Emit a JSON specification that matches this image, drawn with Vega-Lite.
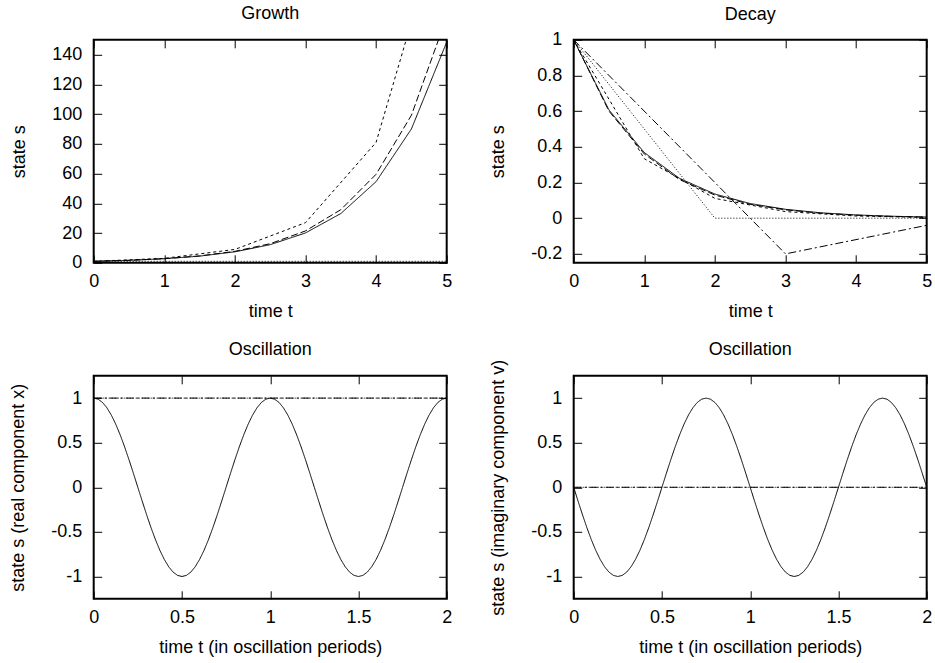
{
  "$schema": "https://vega.github.io/schema/vega-lite/v6.json",
  "background": "white",
  "padding": {"left": 7.7, "top": 3.8, "right": 5, "bottom": 5},
  "columns": 2,
  "spacing": {"row": 113, "column": 127},
  "bounds": "flush",
  "datasets": {
    "growth": [
      {"t": 0, "s": 1, "m": "exact"}, {"t": 0.5, "s": 1.6487, "m": "exact"}, {"t": 1, "s": 2.7183, "m": "exact"},
      {"t": 1.5, "s": 4.4817, "m": "exact"}, {"t": 2, "s": 7.3891, "m": "exact"}, {"t": 2.5, "s": 12.1825, "m": "exact"},
      {"t": 3, "s": 20.0855, "m": "exact"}, {"t": 3.5, "s": 33.1155, "m": "exact"}, {"t": 4, "s": 54.5982, "m": "exact"},
      {"t": 4.5, "s": 90.0171, "m": "exact"}, {"t": 5, "s": 148.4132, "m": "exact"},
      {"t": 0, "s": 1, "m": "h=0.5"}, {"t": 0.5, "s": 1.6667, "m": "h=0.5"}, {"t": 1, "s": 2.7778, "m": "h=0.5"},
      {"t": 1.5, "s": 4.6296, "m": "h=0.5"}, {"t": 2, "s": 7.716, "m": "h=0.5"}, {"t": 2.5, "s": 12.8601, "m": "h=0.5"},
      {"t": 3, "s": 21.4335, "m": "h=0.5"}, {"t": 3.5, "s": 35.7225, "m": "h=0.5"}, {"t": 4, "s": 59.5374, "m": "h=0.5"},
      {"t": 4.5, "s": 99.229, "m": "h=0.5"}, {"t": 5, "s": 165.3817, "m": "h=0.5"},
      {"t": 0, "s": 1, "m": "h=1"}, {"t": 1, "s": 3, "m": "h=1"}, {"t": 2, "s": 9, "m": "h=1"},
      {"t": 3, "s": 27, "m": "h=1"}, {"t": 4, "s": 81, "m": "h=1"}, {"t": 5, "s": 243, "m": "h=1"},
      {"t": 0, "s": 1, "m": "h=2"}, {"t": 2, "s": 1, "m": "h=2"}, {"t": 4, "s": 1, "m": "h=2"}, {"t": 6, "s": 1, "m": "h=2"}
    ],
    "decay": [
      {"t": 0, "s": 1, "m": "exact"}, {"t": 0.5, "s": 0.6065, "m": "exact"}, {"t": 1, "s": 0.3679, "m": "exact"},
      {"t": 1.5, "s": 0.2231, "m": "exact"}, {"t": 2, "s": 0.1353, "m": "exact"}, {"t": 2.5, "s": 0.0821, "m": "exact"},
      {"t": 3, "s": 0.0498, "m": "exact"}, {"t": 3.5, "s": 0.0302, "m": "exact"}, {"t": 4, "s": 0.0183, "m": "exact"},
      {"t": 4.5, "s": 0.0111, "m": "exact"}, {"t": 5, "s": 0.0067, "m": "exact"},
      {"t": 0, "s": 1, "m": "h=0.5"}, {"t": 0.5, "s": 0.6, "m": "h=0.5"}, {"t": 1, "s": 0.36, "m": "h=0.5"},
      {"t": 1.5, "s": 0.216, "m": "h=0.5"}, {"t": 2, "s": 0.1296, "m": "h=0.5"}, {"t": 2.5, "s": 0.0778, "m": "h=0.5"},
      {"t": 3, "s": 0.0467, "m": "h=0.5"}, {"t": 3.5, "s": 0.028, "m": "h=0.5"}, {"t": 4, "s": 0.0168, "m": "h=0.5"},
      {"t": 4.5, "s": 0.0101, "m": "h=0.5"}, {"t": 5, "s": 0.006, "m": "h=0.5"},
      {"t": 0, "s": 1, "m": "h=1"}, {"t": 1, "s": 0.3333, "m": "h=1"}, {"t": 2, "s": 0.1111, "m": "h=1"},
      {"t": 3, "s": 0.037, "m": "h=1"}, {"t": 4, "s": 0.0123, "m": "h=1"}, {"t": 5, "s": 0.0041, "m": "h=1"},
      {"t": 0, "s": 1, "m": "h=2"}, {"t": 2, "s": 0, "m": "h=2"}, {"t": 4, "s": 0, "m": "h=2"}, {"t": 6, "s": 0, "m": "h=2"},
      {"t": 0, "s": 1, "m": "h=3"}, {"t": 3, "s": -0.2, "m": "h=3"}, {"t": 6, "s": 0.04, "m": "h=3"}
    ],
    "osc": [
      {"t": 0, "re": 1, "im": 0, "m": "exact"}, {"t": 0.025, "re": 0.9877, "im": -0.1564, "m": "exact"},
      {"t": 0.05, "re": 0.9511, "im": -0.309, "m": "exact"}, {"t": 0.075, "re": 0.891, "im": -0.454, "m": "exact"},
      {"t": 0.1, "re": 0.809, "im": -0.5878, "m": "exact"}, {"t": 0.125, "re": 0.7071, "im": -0.7071, "m": "exact"},
      {"t": 0.15, "re": 0.5878, "im": -0.809, "m": "exact"}, {"t": 0.175, "re": 0.454, "im": -0.891, "m": "exact"},
      {"t": 0.2, "re": 0.309, "im": -0.9511, "m": "exact"}, {"t": 0.225, "re": 0.1564, "im": -0.9877, "m": "exact"},
      {"t": 0.25, "re": 0, "im": -1, "m": "exact"}, {"t": 0.275, "re": -0.1564, "im": -0.9877, "m": "exact"},
      {"t": 0.3, "re": -0.309, "im": -0.9511, "m": "exact"}, {"t": 0.325, "re": -0.454, "im": -0.891, "m": "exact"},
      {"t": 0.35, "re": -0.5878, "im": -0.809, "m": "exact"}, {"t": 0.375, "re": -0.7071, "im": -0.7071, "m": "exact"},
      {"t": 0.4, "re": -0.809, "im": -0.5878, "m": "exact"}, {"t": 0.425, "re": -0.891, "im": -0.454, "m": "exact"},
      {"t": 0.45, "re": -0.9511, "im": -0.309, "m": "exact"}, {"t": 0.475, "re": -0.9877, "im": -0.1564, "m": "exact"},
      {"t": 0.5, "re": -1, "im": 0, "m": "exact"}, {"t": 0.525, "re": -0.9877, "im": 0.1564, "m": "exact"},
      {"t": 0.55, "re": -0.9511, "im": 0.309, "m": "exact"}, {"t": 0.575, "re": -0.891, "im": 0.454, "m": "exact"},
      {"t": 0.6, "re": -0.809, "im": 0.5878, "m": "exact"}, {"t": 0.625, "re": -0.7071, "im": 0.7071, "m": "exact"},
      {"t": 0.65, "re": -0.5878, "im": 0.809, "m": "exact"}, {"t": 0.675, "re": -0.454, "im": 0.891, "m": "exact"},
      {"t": 0.7, "re": -0.309, "im": 0.9511, "m": "exact"}, {"t": 0.725, "re": -0.1564, "im": 0.9877, "m": "exact"},
      {"t": 0.75, "re": 0, "im": 1, "m": "exact"}, {"t": 0.775, "re": 0.1564, "im": 0.9877, "m": "exact"},
      {"t": 0.8, "re": 0.309, "im": 0.9511, "m": "exact"}, {"t": 0.825, "re": 0.454, "im": 0.891, "m": "exact"},
      {"t": 0.85, "re": 0.5878, "im": 0.809, "m": "exact"}, {"t": 0.875, "re": 0.7071, "im": 0.7071, "m": "exact"},
      {"t": 0.9, "re": 0.809, "im": 0.5878, "m": "exact"}, {"t": 0.925, "re": 0.891, "im": 0.454, "m": "exact"},
      {"t": 0.95, "re": 0.9511, "im": 0.309, "m": "exact"}, {"t": 0.975, "re": 0.9877, "im": 0.1564, "m": "exact"},
      {"t": 1, "re": 1, "im": 0, "m": "exact"}, {"t": 1.025, "re": 0.9877, "im": -0.1564, "m": "exact"},
      {"t": 1.05, "re": 0.9511, "im": -0.309, "m": "exact"}, {"t": 1.075, "re": 0.891, "im": -0.454, "m": "exact"},
      {"t": 1.1, "re": 0.809, "im": -0.5878, "m": "exact"}, {"t": 1.125, "re": 0.7071, "im": -0.7071, "m": "exact"},
      {"t": 1.15, "re": 0.5878, "im": -0.809, "m": "exact"}, {"t": 1.175, "re": 0.454, "im": -0.891, "m": "exact"},
      {"t": 1.2, "re": 0.309, "im": -0.9511, "m": "exact"}, {"t": 1.225, "re": 0.1564, "im": -0.9877, "m": "exact"},
      {"t": 1.25, "re": 0, "im": -1, "m": "exact"}, {"t": 1.275, "re": -0.1564, "im": -0.9877, "m": "exact"},
      {"t": 1.3, "re": -0.309, "im": -0.9511, "m": "exact"}, {"t": 1.325, "re": -0.454, "im": -0.891, "m": "exact"},
      {"t": 1.35, "re": -0.5878, "im": -0.809, "m": "exact"}, {"t": 1.375, "re": -0.7071, "im": -0.7071, "m": "exact"},
      {"t": 1.4, "re": -0.809, "im": -0.5878, "m": "exact"}, {"t": 1.425, "re": -0.891, "im": -0.454, "m": "exact"},
      {"t": 1.45, "re": -0.9511, "im": -0.309, "m": "exact"}, {"t": 1.475, "re": -0.9877, "im": -0.1564, "m": "exact"},
      {"t": 1.5, "re": -1, "im": 0, "m": "exact"}, {"t": 1.525, "re": -0.9877, "im": 0.1564, "m": "exact"},
      {"t": 1.55, "re": -0.9511, "im": 0.309, "m": "exact"}, {"t": 1.575, "re": -0.891, "im": 0.454, "m": "exact"},
      {"t": 1.6, "re": -0.809, "im": 0.5878, "m": "exact"}, {"t": 1.625, "re": -0.7071, "im": 0.7071, "m": "exact"},
      {"t": 1.65, "re": -0.5878, "im": 0.809, "m": "exact"}, {"t": 1.675, "re": -0.454, "im": 0.891, "m": "exact"},
      {"t": 1.7, "re": -0.309, "im": 0.9511, "m": "exact"}, {"t": 1.725, "re": -0.1564, "im": 0.9877, "m": "exact"},
      {"t": 1.75, "re": 0, "im": 1, "m": "exact"}, {"t": 1.775, "re": 0.1564, "im": 0.9877, "m": "exact"},
      {"t": 1.8, "re": 0.309, "im": 0.9511, "m": "exact"}, {"t": 1.825, "re": 0.454, "im": 0.891, "m": "exact"},
      {"t": 1.85, "re": 0.5878, "im": 0.809, "m": "exact"}, {"t": 1.875, "re": 0.7071, "im": 0.7071, "m": "exact"},
      {"t": 1.9, "re": 0.809, "im": 0.5878, "m": "exact"}, {"t": 1.925, "re": 0.891, "im": 0.454, "m": "exact"},
      {"t": 1.95, "re": 0.9511, "im": 0.309, "m": "exact"}, {"t": 1.975, "re": 0.9877, "im": 0.1564, "m": "exact"},
      {"t": 2, "re": 1, "im": 0, "m": "exact"},
      {"t": 0, "re": 1, "im": 0, "m": "h=3"}, {"t": 1, "re": 1, "im": 0, "m": "h=3"}, {"t": 2, "re": 1, "im": 0, "m": "h=3"},
      {"t": 0, "re": 1, "im": 0, "m": "h=2"}, {"t": 2, "re": 1, "im": 0, "m": "h=2"}
    ]
  },
  "concat": [
    {
      "title": {"text": "Growth"},
      "width": 353, "height": 223,
      "data": {"name": "growth"},
      "layer": [
        {
          "mark": {"type": "line", "clip": true, "color": "black", "strokeWidth": 1},
          "encoding": {
            "x": {"field": "t", "type": "quantitative", "scale": {"domain": [0, 5], "nice": false}, "axis": {"orient": "bottom", "title": "time t", "values": [0, 1, 2, 3, 4, 5]}},
            "y": {"field": "s", "type": "quantitative", "scale": {"domain": [0, 150], "nice": false, "zero": false}, "axis": {"orient": "left", "title": "state s", "values": [0, 20, 40, 60, 80, 100, 120, 140]}},
            "strokeDash": {"field": "m", "type": "nominal", "legend": null, "scale": {"domain": ["exact", "h=0.5", "h=1", "h=2", "h=3"], "range": [[1, 0], [7, 3], [3, 3], [1, 2], [8, 3, 2, 3]]}}
          }
        },
        {
          "mark": {"type": "line", "clip": true, "strokeOpacity": 0},
          "encoding": {
            "x": {"field": "t", "type": "quantitative", "axis": {"orient": "top", "title": null, "labels": false, "values": [0, 1, 2, 3, 4, 5]}},
            "y": {"field": "s", "type": "quantitative", "axis": {"orient": "right", "title": null, "labels": false, "values": [0, 20, 40, 60, 80, 100, 120, 140]}},
            "detail": {"field": "m"}
          }
        }
      ],
      "resolve": {"axis": {"x": "independent", "y": "independent"}}
    },
    {
      "title": {"text": "Decay", "dy": 9},
      "width": 353, "height": 223,
      "data": {"name": "decay"},
      "layer": [
        {
          "mark": {"type": "line", "clip": true, "color": "black", "strokeWidth": 1},
          "encoding": {
            "x": {"field": "t", "type": "quantitative", "scale": {"domain": [0, 5], "nice": false}, "axis": {"orient": "bottom", "title": "time t", "values": [0, 1, 2, 3, 4, 5]}},
            "y": {"field": "s", "type": "quantitative", "scale": {"domain": [-0.25, 1], "nice": false, "zero": false}, "axis": {"orient": "left", "title": "state s", "values": [-0.2, 0, 0.2, 0.4, 0.6, 0.8, 1]}},
            "strokeDash": {"field": "m", "type": "nominal", "legend": null, "scale": {"domain": ["exact", "h=0.5", "h=1", "h=2", "h=3"], "range": [[1, 0], [7, 3], [3, 3], [1, 2], [8, 3, 2, 3]]}}
          }
        },
        {
          "mark": {"type": "line", "clip": true, "strokeOpacity": 0},
          "encoding": {
            "x": {"field": "t", "type": "quantitative", "axis": {"orient": "top", "title": null, "labels": false, "values": [0, 1, 2, 3, 4, 5]}},
            "y": {"field": "s", "type": "quantitative", "axis": {"orient": "right", "title": null, "labels": false, "values": [-0.2, 0, 0.2, 0.4, 0.6, 0.8, 1]}},
            "detail": {"field": "m"}
          }
        }
      ],
      "resolve": {"axis": {"x": "independent", "y": "independent"}}
    },
    {
      "title": {"text": "Oscillation"},
      "width": 353, "height": 223,
      "data": {"name": "osc"},
      "layer": [
        {
          "mark": {"type": "line", "clip": true, "color": "black", "strokeWidth": 1},
          "encoding": {
            "x": {"field": "t", "type": "quantitative", "scale": {"domain": [0, 2], "nice": false}, "axis": {"orient": "bottom", "title": "time t (in oscillation periods)", "values": [0, 0.5, 1, 1.5, 2]}},
            "y": {"field": "re", "type": "quantitative", "scale": {"domain": [-1.25, 1.25], "nice": false, "zero": false}, "axis": {"orient": "left", "title": "state s (real component x)", "values": [-1, -0.5, 0, 0.5, 1]}},
            "strokeDash": {"field": "m", "type": "nominal", "legend": null, "scale": {"domain": ["exact", "h=0.5", "h=1", "h=2", "h=3"], "range": [[1, 0], [7, 3], [3, 3], [1, 2], [8, 3, 2, 3]]}}
          }
        },
        {
          "mark": {"type": "line", "clip": true, "strokeOpacity": 0},
          "encoding": {
            "x": {"field": "t", "type": "quantitative", "axis": {"orient": "top", "title": null, "labels": false, "values": [0, 0.5, 1, 1.5, 2]}},
            "y": {"field": "re", "type": "quantitative", "axis": {"orient": "right", "title": null, "labels": false, "values": [-1, -0.5, 0, 0.5, 1]}},
            "detail": {"field": "m"}
          }
        }
      ],
      "resolve": {"axis": {"x": "independent", "y": "independent"}}
    },
    {
      "title": {"text": "Oscillation", "dy": 16},
      "width": 353, "height": 223,
      "data": {"name": "osc"},
      "layer": [
        {
          "mark": {"type": "line", "clip": true, "color": "black", "strokeWidth": 1},
          "encoding": {
            "x": {"field": "t", "type": "quantitative", "scale": {"domain": [0, 2], "nice": false}, "axis": {"orient": "bottom", "title": "time t (in oscillation periods)", "values": [0, 0.5, 1, 1.5, 2]}},
            "y": {"field": "im", "type": "quantitative", "scale": {"domain": [-1.25, 1.25], "nice": false, "zero": false}, "axis": {"orient": "left", "title": "state s (imaginary component v)", "values": [-1, -0.5, 0, 0.5, 1]}},
            "strokeDash": {"field": "m", "type": "nominal", "legend": null, "scale": {"domain": ["exact", "h=0.5", "h=1", "h=2", "h=3"], "range": [[1, 0], [7, 3], [3, 3], [1, 2], [8, 3, 2, 3]]}}
          }
        },
        {
          "mark": {"type": "line", "clip": true, "strokeOpacity": 0},
          "encoding": {
            "x": {"field": "t", "type": "quantitative", "axis": {"orient": "top", "title": null, "labels": false, "values": [0, 0.5, 1, 1.5, 2]}},
            "y": {"field": "im", "type": "quantitative", "axis": {"orient": "right", "title": null, "labels": false, "values": [-1, -0.5, 0, 0.5, 1]}},
            "detail": {"field": "m"}
          }
        }
      ],
      "resolve": {"axis": {"x": "independent", "y": "independent"}}
    }
  ],
  "config": {
    "font": "Liberation Sans",
    "view": {"stroke": "black", "strokeWidth": 2},
    "axis": {
      "grid": false, "domain": false, "zindex": 1, "offset": -8,
      "ticks": true, "tickColor": "black", "tickOpacity": 1, "tickSize": 8, "tickWidth": 1,
      "labelFont": "Liberation Sans", "labelFontSize": 18, "labelColor": "black",
      "labelFlush": false, "labelOverlap": false, "labelBound": false,
      "labelExpr": "replace(format(datum.value, '~g'), '\u2212', '-')",
      "titleFont": "Liberation Sans", "titleFontSize": 18, "titleFontWeight": "normal", "titleColor": "black"
    },
    "axisBottom": {"labelPadding": 9.6, "titlePadding": 12.6},
    "axisLeft": {"labelPadding": 12, "titlePadding": 23},
    "title": {"font": "Liberation Sans", "fontSize": 18, "fontWeight": "normal", "color": "black", "baseline": "alphabetic", "offset": 16.1}
  }
}
